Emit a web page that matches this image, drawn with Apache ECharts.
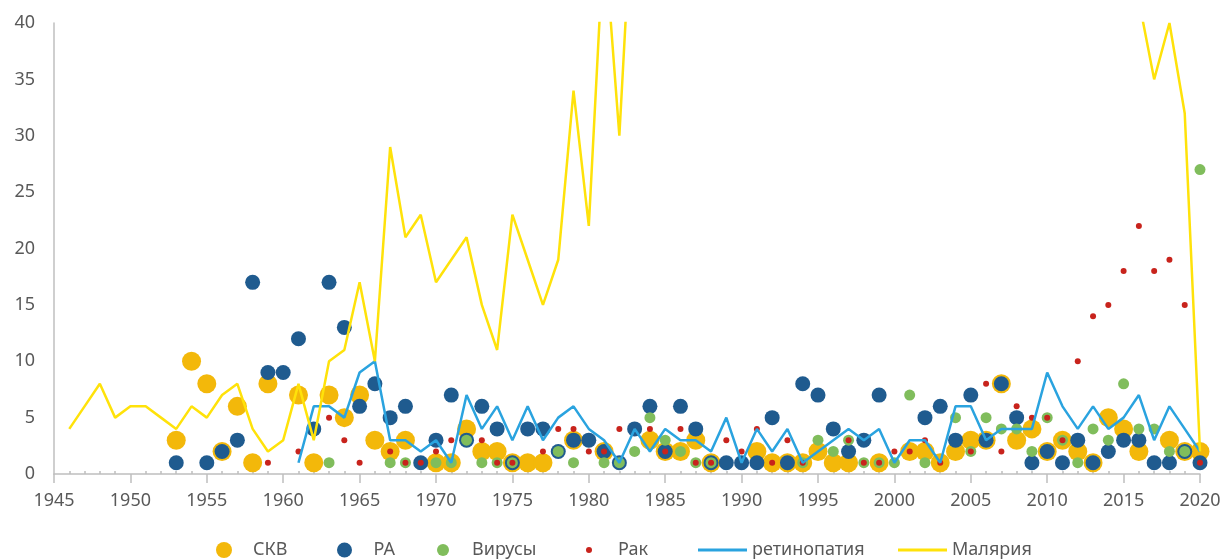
<!DOCTYPE html>
<html lang="ru">
<head>
    <meta charset="UTF-8">
    <title>Публикации по годам</title>
    <script src="https://cdn.jsdelivr.net/npm/echarts@6.0.0/dist/echarts.min.js"></script>
    <style>
        html, body { margin: 0; padding: 0; background: #fff; }
    </style>
</head>
<body>
<div id="main" style="width: 1227px;height:560px;"></div>

<script type="text/javascript">
    // точки [год, значение]
    var skvPoints = [
        [1953, 3], [1954, 10], [1955, 8], [1956, 2], [1957, 6], [1958, 1], [1959, 8], [1961, 7], [1962, 1],
        [1963, 7], [1964, 5], [1965, 7], [1966, 3], [1967, 2], [1968, 3], [1970, 1], [1971, 1], [1972, 4],
        [1973, 2], [1974, 2], [1975, 1], [1976, 1], [1977, 1], [1979, 3], [1981, 2], [1984, 3], [1985, 2],
        [1986, 2], [1987, 3], [1988, 1], [1991, 2], [1992, 1], [1993, 1], [1994, 1], [1995, 2], [1996, 1],
        [1997, 1], [1999, 1], [2001, 2], [2002, 2], [2003, 1], [2004, 2], [2005, 3], [2006, 3], [2007, 8],
        [2008, 3], [2009, 4], [2010, 2], [2011, 3], [2012, 2], [2013, 1], [2014, 5], [2015, 4], [2016, 2],
        [2018, 3], [2019, 2], [2020, 2]
    ];
    var raPoints = [
        [1953, 1], [1955, 1], [1956, 2], [1957, 3], [1958, 17], [1959, 9], [1960, 9], [1961, 12], [1962, 4],
        [1963, 17], [1964, 13], [1965, 6], [1966, 8], [1967, 5], [1968, 6], [1969, 1], [1970, 3], [1971, 7],
        [1972, 3], [1973, 6], [1974, 4], [1975, 1], [1976, 4], [1977, 4], [1978, 2], [1979, 3], [1980, 3],
        [1981, 2], [1982, 1], [1983, 4], [1984, 6], [1985, 2], [1986, 6], [1987, 4], [1988, 1], [1989, 1],
        [1990, 1], [1991, 1], [1992, 5], [1993, 1], [1994, 8], [1995, 7], [1996, 4], [1997, 2], [1998, 3],
        [1999, 7], [2002, 5], [2003, 6], [2004, 3], [2005, 7], [2006, 3], [2007, 8], [2008, 5], [2009, 1],
        [2010, 2], [2011, 1], [2012, 3], [2013, 1], [2014, 2], [2015, 3], [2016, 3], [2017, 1], [2018, 1],
        [2019, 2], [2020, 1]
    ];
    var virusPoints = [
        [1963, 1], [1967, 1], [1968, 1], [1970, 1], [1971, 1], [1972, 3], [1973, 1], [1974, 1], [1975, 1],
        [1978, 2], [1979, 1], [1981, 1], [1982, 1], [1983, 2], [1984, 5], [1985, 3], [1986, 2], [1987, 1],
        [1988, 1], [1994, 1], [1995, 3], [1996, 2], [1997, 3], [1998, 1], [1999, 1], [2000, 1], [2001, 7],
        [2002, 1], [2004, 5], [2005, 2], [2006, 5], [2007, 4], [2008, 4], [2009, 2], [2010, 5], [2011, 3],
        [2012, 1], [2013, 4], [2014, 3], [2015, 8], [2016, 4], [2017, 4], [2018, 2], [2019, 2], [2020, 27]
    ];
    var cancerPoints = [
        [1959, 1], [1961, 2], [1963, 5], [1964, 3], [1965, 1], [1967, 2], [1968, 1], [1969, 1], [1970, 2],
        [1971, 3], [1973, 3], [1974, 1], [1975, 1], [1977, 2], [1978, 4], [1979, 4], [1980, 2], [1981, 2],
        [1982, 4], [1984, 4], [1985, 2], [1986, 4], [1987, 1], [1988, 1], [1989, 3], [1990, 2], [1991, 4],
        [1992, 1], [1993, 3], [1994, 1], [1997, 3], [1998, 1], [1999, 1], [2000, 2], [2001, 2], [2002, 3],
        [2003, 1], [2005, 2], [2006, 8], [2007, 2], [2008, 6], [2009, 5], [2010, 5], [2011, 3], [2012, 10],
        [2013, 14], [2014, 15], [2015, 18], [2016, 22], [2017, 18], [2018, 19], [2019, 15], [2020, 1]
    ];

    // линии: первый год и значения подряд (null — за верхним краем, не читается)
    var retinoStart = 1961;
    var retinoValues = [
        1, 6, 6, 5, 9, 10, 3, 3, 2, 3, 1, 7, 4, 6, 3, 6, 3, 5, 6, 4,
        3, 1, 4, 2, 4, 3, 3, 2, 5, 1, 4, 2, 4, 1, 2, 3, 4, 3, 4, 1,
        3, 3, 1, 6, 6, 3, 4, 4, 4, 9, 6, 4, 6, 4, 5, 7, 3, 6, 4, 2
    ];
    var malariaStart = 1946;
    var malariaValues = [
        4, 6, 8, 5, 6, 6, 5, 4, 6, 5, 7, 8, 4, 2, 3, 8, 3, 10, 11, 17,
        10, 29, 21, 23, 17, 19, 21, 15, 11, 23, 19, 15, 19, 34, 22, 48, 30, 55,
        null, null, null, null, null, null, null, null, null, null, null, null, null, null, null, null,
        null, null, null, null, null, null, null, null, null, null, null, null, null, null, null, null,
        42, 35, 40, 32, 2
    ];

    var colors = {
        skv: '#f3b80a',
        ra: '#1f5b8f',
        virus: '#80bd5c',
        cancer: '#c8231c',
        retino: '#2aa3df',
        malaria: '#ffe20a'
    };

    function toPairs(start, values) {
        var res = [];
        for (let i = 0; i < values.length; i++) {
            res.push([start + i, values[i]]);
        }
        return res;
    }

    var textColor = '#595959';
    var axisColor = '#bfbfbf';
    var font = 'Noto Sans';

    function legendItem(name, left, w, h, icon) {
        return {
            data: [{name: name, icon: icon}],
            left: left,
            top: 541,
            padding: 0,
            itemWidth: w,
            itemHeight: h,
            textStyle: {color: textColor, fontSize: 18, fontFamily: font}
        };
    }

    var myChart = echarts.init(document.getElementById('main'));
    var option = {
        animation: false,
        backgroundColor: '#fff',
        grid: {left: 54, right: 27, top: 23, bottom: 86},
        legend: [
            legendItem('СКВ', 216, 48, 16, 'circle'),
            legendItem('РА', 337, 48, 15, 'circle'),
            legendItem('Вирусы', 437, 48, 12, 'circle'),
            legendItem('Рак', 586, 48, 6, 'circle'),
            legendItem('ретинопатия', 698, 49, 3, 'rect'),
            legendItem('Малярия', 898, 49, 3, 'rect')
        ],
        xAxis: {
            type: 'value',
            min: 1945,
            max: 2020,
            interval: 5,
            axisLine: {show: true, lineStyle: {color: axisColor, width: 1.5}},
            axisTick: {show: true, length: 9, lineStyle: {color: axisColor, width: 1.5}},
            minorTick: {show: true, splitNumber: 5, length: -3, lineStyle: {color: axisColor, width: 1.5}},
            splitLine: {show: false},
            axisLabel: {
                color: textColor,
                fontSize: 18,
                fontFamily: font,
                margin: 18,
                formatter: function (v) { return '' + v; }
            }
        },
        yAxis: {
            type: 'value',
            min: 0,
            max: 40,
            interval: 5,
            axisLine: {show: true, lineStyle: {color: axisColor, width: 1.5}},
            axisTick: {show: false},
            splitLine: {show: false},
            axisLabel: {color: textColor, fontSize: 18, fontFamily: font, margin: 19}
        },
        series: [
            {
                name: 'СКВ',
                type: 'scatter',
                data: skvPoints,
                symbolSize: 19,
                itemStyle: {color: colors.skv, opacity: 1}
            },
            {
                name: 'РА',
                type: 'scatter',
                data: raPoints,
                symbolSize: 15,
                itemStyle: {color: colors.ra, opacity: 1}
            },
            {
                name: 'Вирусы',
                type: 'scatter',
                data: virusPoints,
                symbolSize: 11,
                itemStyle: {color: colors.virus, opacity: 1}
            },
            {
                name: 'Рак',
                type: 'scatter',
                data: cancerPoints,
                symbolSize: 6,
                itemStyle: {color: colors.cancer, opacity: 1}
            },
            {
                name: 'ретинопатия',
                type: 'line',
                data: toPairs(retinoStart, retinoValues),
                symbol: 'none',
                showSymbol: false,
                clip: true,
                lineStyle: {color: colors.retino, width: 2.5},
                itemStyle: {color: colors.retino}
            },
            {
                name: 'Малярия',
                type: 'line',
                data: toPairs(malariaStart, malariaValues),
                symbol: 'none',
                showSymbol: false,
                connectNulls: true,
                clip: true,
                lineStyle: {color: colors.malaria, width: 2.5},
                itemStyle: {color: colors.malaria}
            }
        ]
    };

    if (option && typeof option === "object") {
        myChart.setOption(option, true);
    }
</script>
</body>
</html>
